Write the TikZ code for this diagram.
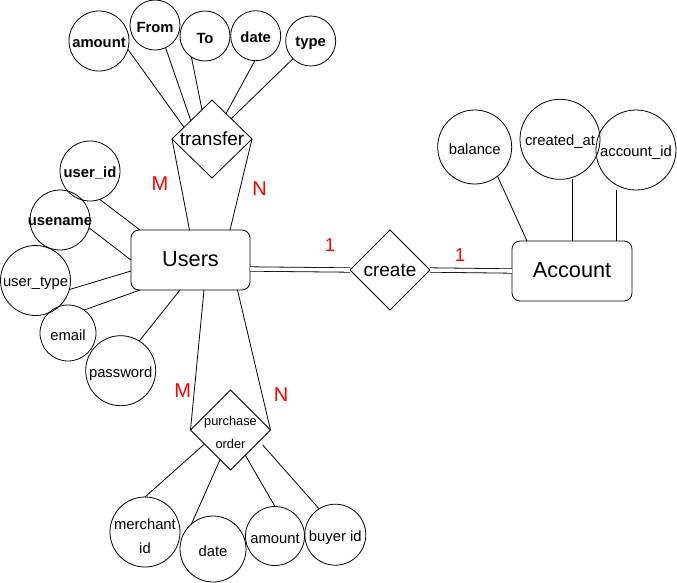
\documentclass[tikz,border=0pt]{standalone}
\usepackage{fontspec}
\setmainfont{Liberation Sans}
\usetikzlibrary{shapes.geometric,calc}
\begin{document}
\begin{tikzpicture}[x=1pt,y=-1pt,
  every node/.style={outer sep=0pt, inner sep=0pt},
  conn/.style={draw=black, line width=0.8pt},
  attr/.style={circle, draw, line width=0.8pt, minimum size=#1},
  rel/.style={diamond, draw, line width=0.8pt, minimum width=80pt, minimum height=#1},
  ent/.style={rectangle, rounded corners=8pt, draw, line width=0.8pt, minimum width=#1, minimum height=60pt},
  atxt/.style={font=\fontsize{14.8}{17}\selectfont, yshift=-2.5pt},
  btxt/.style={font=\bfseries\fontsize{14.8}{17}\selectfont, yshift=-2pt},
  reltxt/.style={font=\fontsize{19}{22}\selectfont},
  enttxt/.style={font=\fontsize{21.7}{25}\selectfont, yshift=1pt},
  potxt/.style={align=center, font=\fontsize{12.8}{22.6}\selectfont, yshift=-2.5pt},
  card/.style={text=red, font=\fontsize{20}{22}\selectfont},
  one/.style={text=red, font=\fontsize{18.6}{20}\selectfont},
  dbl/.style={draw, line width=0.8pt, double, double distance=3.6pt},
]
\useasboundingbox (0,0) rectangle (677,582);

% relationships
\node[rel=78pt, label={[reltxt]center:transfer}] (transfer) at (212,139) {};
\node[rel=80pt, label={[reltxt]center:create}] (create) at (390,270) {};
\node[rel=80pt, label={[potxt]center:{purchase\\order}}] (po) at (230.5,430) {};

% entities
\node[ent=119pt, label={[enttxt]center:Users}] (users) at (190.5,260) {};
\node[ent=120pt, label={[enttxt]center:Account}] (account) at (572,271) {};

% transfer attributes
\node[attr=60pt, label={[btxt]center:amount}] (amount) at (99,41) {};
\node[attr=50pt, label={[btxt]center:From}] (from) at (155,25) {};
\node[attr=50pt, label={[btxt]center:To}] (to) at (205,36) {};
\node[attr=50pt, label={[btxt]center:date}] (date) at (255.7,35.7) {};
\node[attr=50pt, label={[btxt]center:type}] (type) at (310.7,41) {};

% user attributes
\node[attr=60pt, label={[btxt]center:user\_id}] (userid) at (90,171) {};
\node[attr=60pt, label={[btxt]center:usename}] (usename) at (60,220) {};
\node[attr=70pt, label={[atxt]center:user\_type}] (usertype) at (35.5,280.5) {};
\node[attr=56pt, label={[atxt]center:email}] (email) at (68,333) {};
\node[attr=70pt, label={[atxt]center:password}] (password) at (120.7,370.7) {};

% account attributes
\node[attr=74pt, label={[atxt]center:balance}] (balance) at (474.7,147) {};
\node[attr=80pt, label={[atxt]center:created\_at}] (createdat) at (560,139.3) {};
\node[attr=80pt, label={[atxt]center:account\_id}] (accountid) at (636,150) {};

% purchase order attributes
\node[attr=70pt, label={[atxt,align=center,font=\fontsize{14.8}{23.4}\selectfont,yshift=-1.5pt]center:{merchant\\id}}] (merchant) at (145,532) {};
\node[attr=66pt, label={[atxt]center:date}] (pdate) at (213,549) {};
\node[attr=59pt, label={[atxt]center:amount}] (pamount) at (275,536) {};
\node[attr=61pt, label={[atxt]center:buyer id}] (buyer) at (335.3,534.7) {};

% transfer connectors
\draw[conn] (amount.-16) -- ($(transfer.west)!0.3!(transfer.north)$);
\draw[conn] (from.-65) -- ($(transfer.west)!0.47!(transfer.north)$);
\draw[conn] (to.-123) -- ($(transfer.west)!0.75!(transfer.north)$);
\draw[conn] (date.-92) -- ($(transfer.north)!0.35!(transfer.east)$);
\draw[conn] (type.-135) -- ($(transfer.north)!0.48!(transfer.east)$);
\draw[conn] (transfer.west) -- ($(users.north)+(-1,0)$);
\draw[conn] (transfer.east) -- ($(users.north)+(39.5,0)$);

% purchase order connectors
\draw[conn] ($(users.south)+(13.5,0)$) -- (po.west);
\draw[conn] ($(users.south)+(47,0)$) -- (po.east);
\draw[conn] ($(po.west)!0.35!(po.south)$) -- (merchant.north);
\draw[conn] ($(po.west)!0.74!(po.south)$) -- (pdate.131);
\draw[conn] ($(po.south)!0.37!(po.east)$) -- (pamount.north);
\draw[conn] ($(po.center)+(32.2,15)$) -- (buyer.122);

% user attribute connectors
\draw[conn] (userid.-71) -- ($(users.north west)+(9,0)$);
\draw[conn] (usename.-15) -- (users.west);
\draw[conn] (usertype.-15) -- ($(users.west)+(0,11)$);
\draw[conn] (email.55) -- ($(users.south west)+(9,0)$);
\draw[conn] (password.58) -- ($(users.south west)+(49,0)$);

% account connectors
\draw[conn] (balance.-52) -- ($(account.north west)+(15,0)$);
\draw[conn] (account.north) -- (account.north |- createdat.south);
\coordinate (aidfoot) at ($(account.north east)+(-16,0)$);
\draw[conn] (aidfoot) -- (aidfoot |- accountid.south);

% double lines
\draw[dbl] ($(users.east)+(0,9)$) -- (create.west);
\draw[dbl] (create.east) -- (account.west);

% cardinalities
\node[card] (m1) at (160,184) {M};
\node[card] (n1) at (259.5,189) {N};
\node[card] (m2) at (182.7,390.5) {M};
\node[card] (n2) at (281,395) {N};
\node[one] (o1) at (330,245) {1};
\node[one] (o2) at (460,255) {1};
\end{tikzpicture}
\end{document}
